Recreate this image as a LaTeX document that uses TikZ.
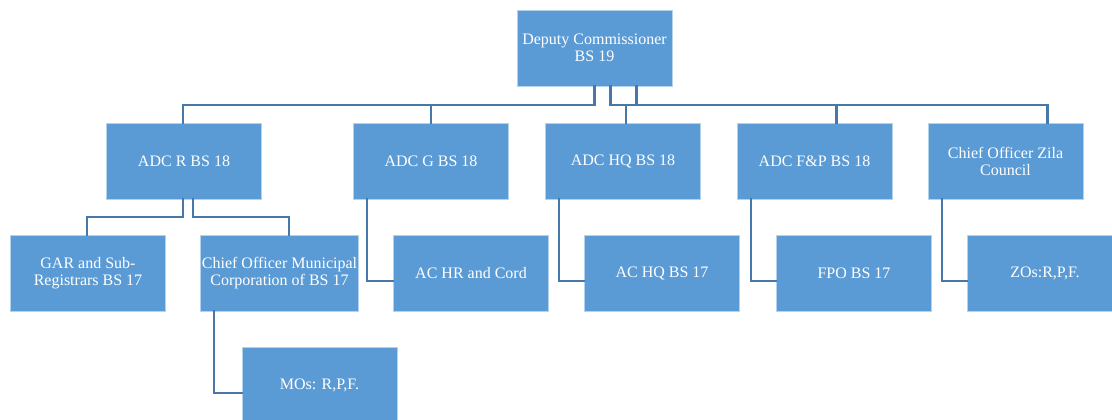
\documentclass[tikz,border=0pt]{standalone}
\usepackage{fontspec}
\setmainfont{Liberation Serif}
\usepackage{tikz}
\usetikzlibrary{calc, positioning, arrows.meta}
\usepackage{xcolor}
\definecolor{boxblue}{RGB}{91, 155, 213}
\definecolor{linkblue}{RGB}{70, 120, 170}

\begin{document}
\begin{tikzpicture}[
  x=0.75pt, y=-0.75pt,
  every node/.style={rectangle, fill=boxblue, draw=boxblue!45!white, line width=0.5pt,
    minimum width=116.25pt, minimum height=57pt, inner sep=1pt, align=center,
    text=white, font=\fontsize{12}{12.75}\selectfont},
  link/.style={draw=linkblue, line width=1.6pt, line cap=rect},
  >=Stealth
]
  \useasboundingbox (0,0) rectangle (1112,420);
  \clip (0,0) rectangle (1112,420);

  \node (dc) at (594.5,48)     {Deputy Commissioner\\BS 19};

  \node (adcr)  at (184,161)   {ADC R BS 18};
  \node (adcg)  at (431,161)   {ADC G BS 18};
  \node (adchq) at (623,161)   {ADC HQ BS 18};
  \node (adcfp) at (814.5,161) {ADC F\&P BS 18};
  \node (cozc)  at (1005.5,161) {Chief Officer Zila\\Council};

  \node (gar)  at (88,273)     {GAR and Sub-\\Registrars BS 17};
  \node (como) at (279.5,273)  {Chief Officer Municipal\\Corporation of BS 17};
  \node (achr) at (471,273)    {AC HR and Cord};
  \node (achq) at (662,273)    {AC HQ BS 17};
  \node (fpo)  at (854,273)    {FPO BS 17};
  \node (zos)  at (1045,273)   {ZOs:R,P,F.};

  \node (mos)  at (319.5,385)  {MOs: R,P,F.};

  \coordinate (bus)  at (0,105);
  \coordinate (busr) at (0,217);

  \draw[link] (dc.south) -- (dc.south |- bus) -| ([xshift=-0.75pt]adcr.north);
  \draw[link] (dc.south) -- (dc.south |- bus) -| (adcg.north);
  \draw[link] ([xshift=12pt]dc.south) -- ([xshift=12pt]dc.south |- bus) -| ([xshift=2.25pt]adchq.north);
  \draw[link] ([xshift=12pt]dc.south) -- ([xshift=12pt]dc.south |- bus) -| ([xshift=16.5pt]adcfp.north);
  \draw[link] ([xshift=31.5pt]dc.south) -- ([xshift=31.5pt]dc.south |- bus) -| ([xshift=31.5pt]cozc.north);

  \draw[link] ([xshift=-0.75pt]adcr.south) -- ([xshift=-0.75pt]adcr.south |- busr) -| ([xshift=-0.75pt]gar.north);
  \draw[link] ([xshift=6.75pt]adcr.south) -- ([xshift=6.75pt]adcr.south |- busr) -| ([xshift=7.1pt]como.north);

  \draw[link] ([xshift=10.5pt]adcg.south west) |- ([yshift=-6pt]achr.west);
  \draw[link] ([xshift=10.5pt]adchq.south west) |- ([yshift=-6pt]achq.west);
  \draw[link] ([xshift=10.5pt]adcfp.south west) |- ([yshift=-6pt]fpo.west);
  \draw[link] ([xshift=10.5pt]cozc.south west) |- ([yshift=-6pt]zos.west);
  \draw[link] ([xshift=10.5pt]como.south west) |- ([yshift=-6pt]mos.west);
\end{tikzpicture}
\end{document}
